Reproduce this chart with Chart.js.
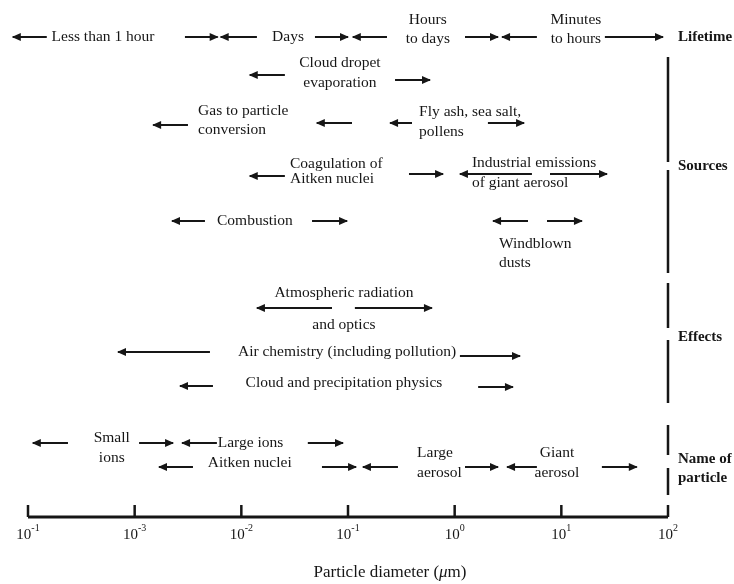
<!DOCTYPE html>
<html>
<head>
<meta charset="utf-8">
<title>Aerosol particle sizes</title>
<script src="https://cdn.jsdelivr.net/npm/chart.js@4.4.1/dist/chart.umd.min.js"></script>
<style>
  body { margin: 0; background: #fff; }
  #wrap { width: 734px; height: 584px; position: relative; }
</style>
</head>
<body>
<div id="wrap"><canvas id="chart"></canvas></div>
<script>
// Arrow ends as particle diameters (um); rows are measured down from the top
const arrowFrom = [7.2e-5, 2.96e-3, 6.4e-3, 0.049, 0.111, 1.25, 2.78, 25.6,
    0.012, 0.276,
    1.49e-3, 0.051, 0.248, 2.05,
    0.012, 0.373, 1.12, 7.83,
    2.24e-3, 0.046, 2.29, 7.34,
    0.014, 0.116, 6.98e-4, 1.12, 2.66e-3, 1.66,
    1.11e-4, 1.1e-3, 2.78e-3, 0.042, 1.69e-3, 0.057, 0.138, 1.25, 3.1, 24];
const arrowTo = [1.5e-4, 6.0e-3, 0.014, 0.1, 0.232, 2.55, 5.9, 89.8,
    0.0256, 0.587,
    3.16e-3, 0.109, 0.398, 4.47,
    0.0256, 0.778, 5.3, 26.8,
    4.56e-3, 0.098, 4.87, 15.6,
    0.0708, 0.612, 5.08e-3, 4.1, 5.42e-3, 3.52,
    2.37e-4, 2.29e-3, 5.9e-3, 0.0898, 3.52e-3, 0.119, 0.294, 2.55, 5.9, 51];
const arrowRow = [37, 37, 37, 37, 37, 37, 37, 37,
    75, 80,
    125, 123, 123, 123,
    176, 174, 174, 174,
    221, 221, 221, 221,
    308, 308, 352, 356, 386, 387,
    443, 443, 443, 443, 467, 467, 467, 467, 467, 467];
const arrowHead = ['L', 'R', 'L', 'R', 'L', 'R', 'L', 'R',
    'L', 'R',
    'L', 'L', 'L', 'R',
    'L', 'R', 'L', 'R',
    'L', 'R', 'L', 'R',
    'L', 'R', 'L', 'R', 'L', 'R',
    'L', 'R', 'L', 'R', 'L', 'R', 'L', 'R', 'L', 'R'];

// Text labels: c = centred, l = left aligned, b = bold group name
const labelText = ['Less than 1 hour', 'Days', 'Hours', 'to days', 'Minutes', 'to hours', 'Lifetime',
    'Cloud dropet', 'evaporation', 'Gas to particle', 'conversion', 'Fly ash, sea salt,', 'pollens',
    'Coagulation of', 'Aitken nuclei', 'Industrial emissions', 'of giant aerosol', 'Combustion',
    'Windblown', 'dusts', 'Sources',
    'Atmospheric radiation', 'and optics', 'Air chemistry (including pollution)',
    'Cloud and precipitation physics', 'Effects',
    'Small', 'ions', 'Large ions', 'Aitken nuclei', 'Large', 'aerosol', 'Giant', 'aerosol',
    'Name of', 'particle'];
const labelX = [5.05e-4, 0.0274, 0.56, 0.56, 13.7, 13.7, 124,
    0.084, 0.084, 3.93e-3, 3.93e-3, 0.464, 0.464,
    0.0286, 0.0286, 1.45, 1.45, 0.0134, 2.6, 2.6, 124,
    0.0916, 0.0916, 0.098, 0.0916, 124,
    6.1e-4, 6.1e-4, 6.0e-3, 0.012, 0.444, 0.444, 9.1, 9.1, 124, 124];
const labelRow = [37, 37, 20, 39, 20, 39, 37,
    63, 83, 111, 130, 112, 132,
    164, 179, 163, 183, 221, 244, 263, 166,
    293, 325, 352, 383, 337,
    438, 458, 443, 463, 453, 473, 453, 473, 459, 478];
const labelStyle = ['c', 'c', 'c', 'c', 'c', 'c', 'b',
    'c', 'c', 'l', 'l', 'l', 'l',
    'l', 'l', 'l', 'l', 'c', 'l', 'l', 'b',
    'c', 'c', 'c', 'c', 'b',
    'c', 'c', 'l', 'c', 'l', 'l', 'c', 'c', 'b', 'b'];

// Group brackets on the right edge (at 10^2)
const bracketTop = [57, 170, 283, 340, 425, 468];
const bracketBottom = [162, 273, 328, 403, 455, 495];

// Axis ticks (the first label reads 10^-1 in the original figure)
const tickValues = [1e-4, 1e-3, 1e-2, 1e-1, 1, 10, 100];
const tickExponents = ['-1', '-3', '-2', '-1', '0', '1', '2'];

const ink = '#161616';
const serif = '"Liberation Serif", "Times New Roman", serif';

const datasets = [];
arrowFrom.forEach((from, i) => {
    datasets.push({
        data: [{ x: from, y: arrowRow[i] }, { x: arrowTo[i], y: arrowRow[i] }],
        head: arrowHead[i],
        borderColor: ink,
        borderWidth: 2,
        showLine: true,
        pointRadius: 0,
        clip: false
    });
});
bracketTop.forEach((top, i) => {
    datasets.push({
        data: [{ x: 100, y: top }, { x: 100, y: bracketBottom[i] }],
        borderColor: ink,
        borderWidth: 2.5,
        showLine: true,
        pointRadius: 0,
        clip: false
    });
});

// Draws arrowheads, labels and the bottom axis
const diagramPlugin = {
    id: 'diagram',
    afterDatasetsDraw(chart) {
        const ctx = chart.ctx;
        const xs = chart.scales.x;
        const ys = chart.scales.y;
        ctx.save();
        ctx.fillStyle = ink;
        ctx.strokeStyle = ink;

        // arrowheads
        chart.data.datasets.forEach((ds, i) => {
            if (!ds.head) return;
            const pts = chart.getDatasetMeta(i).data;
            const tip = ds.head === 'L' ? pts[0] : pts[1];
            const dir = ds.head === 'L' ? -1 : 1;
            ctx.beginPath();
            ctx.moveTo(tip.x + dir, tip.y);
            ctx.lineTo(tip.x - dir * 8, tip.y - 4);
            ctx.lineTo(tip.x - dir * 8, tip.y + 4);
            ctx.closePath();
            ctx.fill();
        });

        // labels
        ctx.textBaseline = 'middle';
        labelText.forEach((text, i) => {
            const style = labelStyle[i];
            ctx.font = style === 'b' ? 'bold 15px ' + serif : '15.5px ' + serif;
            ctx.textAlign = style === 'c' ? 'center' : 'left';
            ctx.fillText(text, xs.getPixelForValue(labelX[i]), ys.getPixelForValue(labelRow[i]));
        });

        // axis line and ticks
        const area = chart.chartArea;
        const y0 = area.bottom;
        ctx.lineWidth = 3;
        ctx.beginPath();
        ctx.moveTo(xs.getPixelForValue(tickValues[0]), y0);
        ctx.lineTo(xs.getPixelForValue(tickValues[tickValues.length - 1]), y0);
        ctx.stroke();
        ctx.lineWidth = 2.5;
        tickValues.forEach((v, i) => {
            const px = xs.getPixelForValue(v);
            ctx.beginPath();
            ctx.moveTo(px, y0);
            ctx.lineTo(px, y0 - 12);
            ctx.stroke();

            ctx.font = '15px ' + serif;
            const baseW = ctx.measureText('10').width;
            ctx.font = '10px ' + serif;
            const supW = ctx.measureText(tickExponents[i]).width;
            const left = px - (baseW + supW) / 2;
            ctx.textAlign = 'left';
            ctx.font = '15px ' + serif;
            ctx.fillText('10', left, y0 + 18);
            ctx.font = '10px ' + serif;
            ctx.fillText(tickExponents[i], left + baseW, y0 + 11);
        });

        // axis title with italic mu
        const parts = [['Particle diameter (', '17px '], ['\u03bc', 'italic 17px '], ['m)', '17px ']];
        let total = 0;
        parts.forEach(p => { ctx.font = p[1] + serif; total += ctx.measureText(p[0]).width; });
        let tx = 390 - total / 2;
        parts.forEach(p => {
            ctx.font = p[1] + serif;
            ctx.fillText(p[0], tx, 573);
            tx += ctx.measureText(p[0]).width;
        });
        ctx.restore();
    }
};

new Chart(document.getElementById('chart'), {
    type: 'scatter',
    data: { datasets: datasets },
    options: {
        responsive: true,
        maintainAspectRatio: false,
        animation: false,
        layout: { padding: { left: 28, right: 66, top: 0, bottom: 67 } },
        plugins: { legend: { display: false }, tooltip: { enabled: false } },
        scales: {
            x: { type: 'logarithmic', min: 1e-4, max: 100, display: false },
            y: { type: 'linear', min: 0, max: 517, reverse: true, display: false }
        }
    },
    plugins: [diagramPlugin]
});
</script>
</body>
</html>
